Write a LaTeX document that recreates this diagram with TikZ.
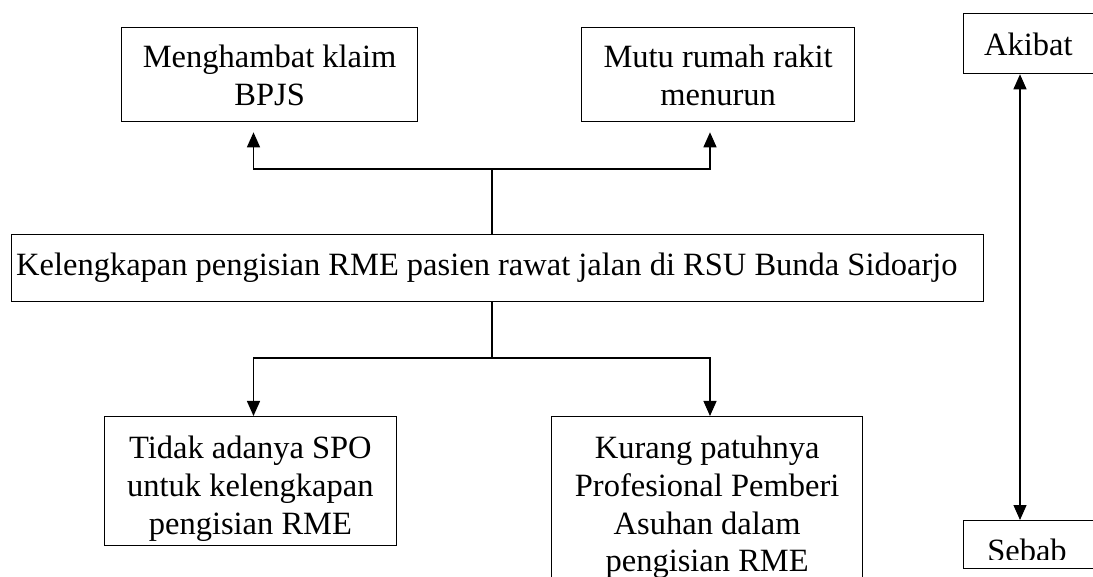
\documentclass[tikz,border=0pt]{standalone}
\usepackage{fontspec}
\setmainfont{Liberation Serif}
\usetikzlibrary{arrows.meta,calc}
\newcommand\bxt[4]{\parbox[t][#2][t]{#1}{\centering\rule{0pt}{#3}#4}}
\newcommand\bxl[5]{\parbox[t][#2][t]{#1}{\raggedright\rule{0pt}{#3}\hspace*{#4}#5}}
\begin{document}
\begin{tikzpicture}[x=1pt,y=-1pt,
  txt/.style={font=\fontsize{32.5}{37.7}\selectfont},
  box/.style={txt, draw=black, line width=1.3pt, inner sep=0pt, anchor=north west},
  link/.style={draw=black, line width=1.3pt},
  arr/.style={link, -{Triangle[length=15pt,width=13pt]}},
  dblarr/.style={link, {Triangle[length=15pt,width=13pt]}-{Triangle[length=15pt,width=13pt]}},
]
\path[use as bounding box] (0,0) rectangle (1093,577);
\clip (0,0) rectangle (1093,577);

\node[box] (b1) at (121,27) {\bxt{296pt}{94pt}{40pt}{Menghambat klaim\\BPJS}};
\node[box] (b2) at (581,27) {\bxt{273pt}{94pt}{40pt}{Mutu rumah rakit\\menurun}};
\node[box] (ak) at (963,13) {\bxt{129.5pt}{60pt}{42pt}{Akibat}};
\node[box] (m) at (10.5,234) {\bxl{972pt}{67pt}{41pt}{5pt}{Kelengkapan pengisian RME pasien rawat jalan di RSU Bunda Sidoarjo}};
\node[box] (b3) at (104,416) {\bxt{291.5pt}{129pt}{42pt}{Tidak adanya SPO\\untuk kelengkapan\\pengisian RME}};
\node[box] (b4) at (551,416) {\bxt{311pt}{180pt}{42pt}{Kurang patuhnya\\Profesional Pemberi\\Asuhan dalam\\pengisian RME}};
\node[box] (sb) at (963,520) {\bxt{129.5pt}{48pt}{0pt}{}};
\begin{scope}
  \clip (963,520) rectangle (1093,559);
  \node[txt, anchor=base, inner sep=0pt] (sbt) at (1027,561) {Sebab};
\end{scope}

\coordinate (jt) at (492,169);
\coordinate (jb) at (492,358);
\coordinate (x1) at (253.5,0);
\coordinate (x2) at (710,0);
\coordinate (xr) at (1020,0);

\draw[link] (m.north -| jt) -- (jt);
\draw[arr] (jt) -| ($(b1.south -| x1)+(0,10)$);
\draw[arr] (jt) -| ($(b2.south -| x2)+(0,10)$);
\draw[link] (m.south -| jb) -- (jb);
\draw[arr] (jb) -| (b3.north -| x1);
\draw[arr] (jb) -| (b4.north -| x2);
\draw[dblarr] (ak.south -| xr) -- (sb.north -| xr);
\end{tikzpicture}
\end{document}
